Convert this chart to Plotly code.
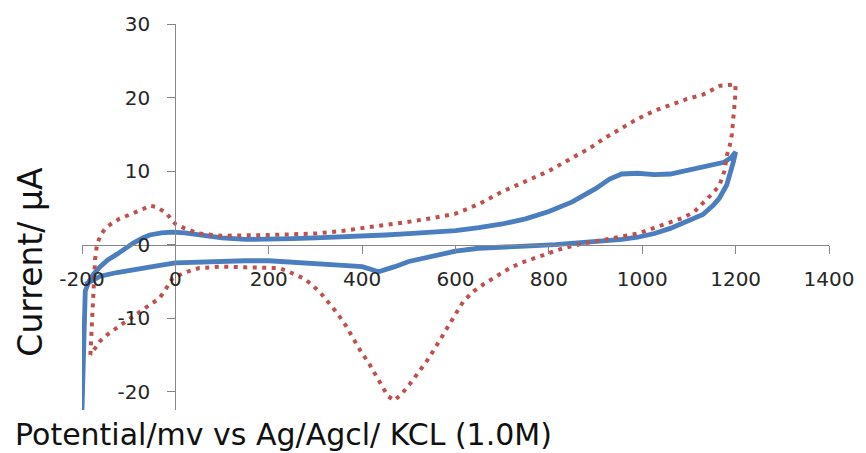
import plotly.graph_objects as go

# ---- data ----
blue_E = [-200, -199, -197, -195, -193, -185, -175, -161, -145, -125, -108, -90, -70, -55, -30, -6,
          20, 50, 100, 150, 200, 250, 300, 350, 400, 450, 500, 550, 600, 650, 700, 750, 800, 850,
          900, 930, 956, 990, 1026, 1060, 1096, 1130, 1153, 1175, 1190, 1200,
          1195, 1181, 1165, 1153, 1130, 1096, 1060, 1026, 990, 956, 900, 850, 814, 750, 700, 650,
          600, 550, 500, 470, 450, 435, 420, 400, 350, 300, 250, 200, 150, 100, 50, 0, -30, -60,
          -90, -125, -161, -185, -193]
blue_I = [-22.5, -19, -14, -10, -6.3, -5.0, -4.0, -3.0, -2.1, -1.3, -0.5, 0.2, 0.9, 1.3, 1.6, 1.7,
          1.6, 1.3, 0.9, 0.7, 0.7, 0.8, 0.9, 1.0, 1.2, 1.3, 1.5, 1.7, 1.9, 2.3, 2.8, 3.5, 4.5, 5.8,
          7.6, 8.9, 9.6, 9.7, 9.5, 9.6, 10.1, 10.5, 10.8, 11.2, 11.8, 12.6,
          11.2, 8.1, 6.3, 5.4, 4.1, 3.1, 2.2, 1.5, 1.0, 0.7, 0.4, 0.2, 0.0, -0.2, -0.3, -0.5,
          -0.9, -1.6, -2.3, -3.0, -3.5, -3.7, -3.4, -3.0, -2.8, -2.6, -2.4, -2.2, -2.2, -2.3, -2.4,
          -2.5, -2.8, -3.1, -3.4, -3.8, -4.3, -5.0, -5.4]

red_E = [-182, -180, -178, -175, -172, -168, -160, -150, -140, -120, -100, -90, -70, -55, -40, -20,
         0, 20, 50, 100, 150, 200, 250, 300, 350, 400, 450, 500, 550, 600, 650, 700, 750, 800,
         850, 885, 920, 956, 990, 1026, 1060, 1096, 1130, 1167, 1185, 1200,
         1199, 1196, 1192, 1188, 1182, 1176, 1165, 1148, 1130, 1112, 1090, 1063, 1030, 991, 956,
         921, 870, 830, 780, 740, 716, 690, 660, 640, 617, 595, 575, 555, 539, 520, 503, 485, 469,
         455, 433, 415, 397, 380, 363, 345, 327, 310, 291, 275, 257, 240, 221, 193, 150, 100, 51,
         20, -6, -20, -34, -55, -76, -100, -125, -145, -161, -175, -182]
red_I = [-15, -12.5, -9.1, -4.6, -2.0, 0.0, 1.3, 2.2, 2.7, 3.5, 4.0, 4.2, 4.8, 5.3, 5.1, 4.3,
         2.8, 2.2, 1.5, 1.2, 1.2, 1.3, 1.4, 1.5, 1.8, 2.2, 2.6, 3.1, 3.6, 4.2, 5.5, 7.2, 8.6, 10.0,
         11.8, 13.0, 14.5, 15.9, 17.1, 18.2, 19.0, 19.8, 20.4, 21.6, 21.7, 21.8,
         20.0, 17.6, 15.0, 13.6, 12.3, 10.0, 8.0, 6.8, 5.6, 4.5, 3.7, 3.1, 2.3, 1.5, 1.1,
         0.7, 0.1, -0.5, -1.6, -2.5, -3.2, -4.2, -5.4, -6.3, -7.7, -10.0, -12.2, -14.2, -15.8, -17.5,
         -18.9, -20.3, -21.2, -20.6, -18.1, -16.2, -14.5, -12.6, -10.8, -9.2, -7.7, -6.5, -5.4, -4.6,
         -4.1, -3.6, -3.2, -3.2, -3.1, -3.0, -3.2, -3.8, -4.6, -6.0, -7.3, -8.2, -9.1, -10.2, -11.3,
         -12.2, -13.1, -14.3, -15.0]

x_ticks = [-200, 0, 200, 400, 600, 800, 1000, 1200, 1400]
y_ticks = [-20, -10, 0, 10, 20, 30]

X_RANGE = [-200, 1400]
Y_RANGE = [-22.5, 30]

AXIS_COLOR = "#868686"
TEXT_COLOR = "#262626"
FONT = "DejaVu Sans"

fig = go.Figure()
fig.add_trace(go.Scatter(x=blue_E, y=blue_I, mode="lines",
                         line=dict(color="#4A7EBF", width=4.8), showlegend=False))
fig.add_trace(go.Scatter(x=red_E, y=red_I, mode="lines",
                         line=dict(color="#C0504D", width=4, dash="4px,5.5px"), showlegend=False))

x_pos = (0 - Y_RANGE[0]) / (Y_RANGE[1] - Y_RANGE[0])
y_pos = (0 - X_RANGE[0]) / (X_RANGE[1] - X_RANGE[0])

fig.update_layout(
    width=866, height=453,
    margin=dict(l=82, r=30, t=21, b=43),
    paper_bgcolor="white", plot_bgcolor="white",
    font=dict(family=FONT, color=TEXT_COLOR, size=20),
    xaxis=dict(range=X_RANGE, tickvals=x_ticks, ticktext=[str(v) for v in x_ticks],
               showgrid=False, zeroline=False, showline=True, linecolor=AXIS_COLOR, linewidth=1.3,
               ticks="outside", ticklen=8, tickwidth=1.3, tickcolor=AXIS_COLOR,
               anchor="free", position=x_pos, ticklabelstandoff=8,
               tickfont=dict(family=FONT, size=20, color=TEXT_COLOR)),
    yaxis=dict(range=Y_RANGE, tickvals=y_ticks, ticktext=[str(v) for v in y_ticks],
               showgrid=False, zeroline=False, showline=True, linecolor=AXIS_COLOR, linewidth=1.3,
               ticks="outside", ticklen=8, tickwidth=1.3, tickcolor=AXIS_COLOR,
               anchor="free", position=y_pos, ticklabelstandoff=13,
               tickfont=dict(family=FONT, size=20, color=TEXT_COLOR)),
    annotations=[
        dict(text="Potential/mv vs Ag/Agcl/ KCL (1.0M)", xref="paper", yref="paper",
             x=(12 - 82) / 754, y=-(435 - 410) / 389, xanchor="left", yanchor="middle",
             showarrow=False, font=dict(family=FONT, size=30, color="#111111")),
        dict(text="Current/ μA", xref="paper", yref="paper",
             x=(30 - 82) / 754, y=(410 - 260) / 389, xanchor="center", yanchor="middle",
             textangle=-90, showarrow=False, font=dict(family=FONT, size=33, color="#111111")),
    ],
)

fig.write_html("out.html")
